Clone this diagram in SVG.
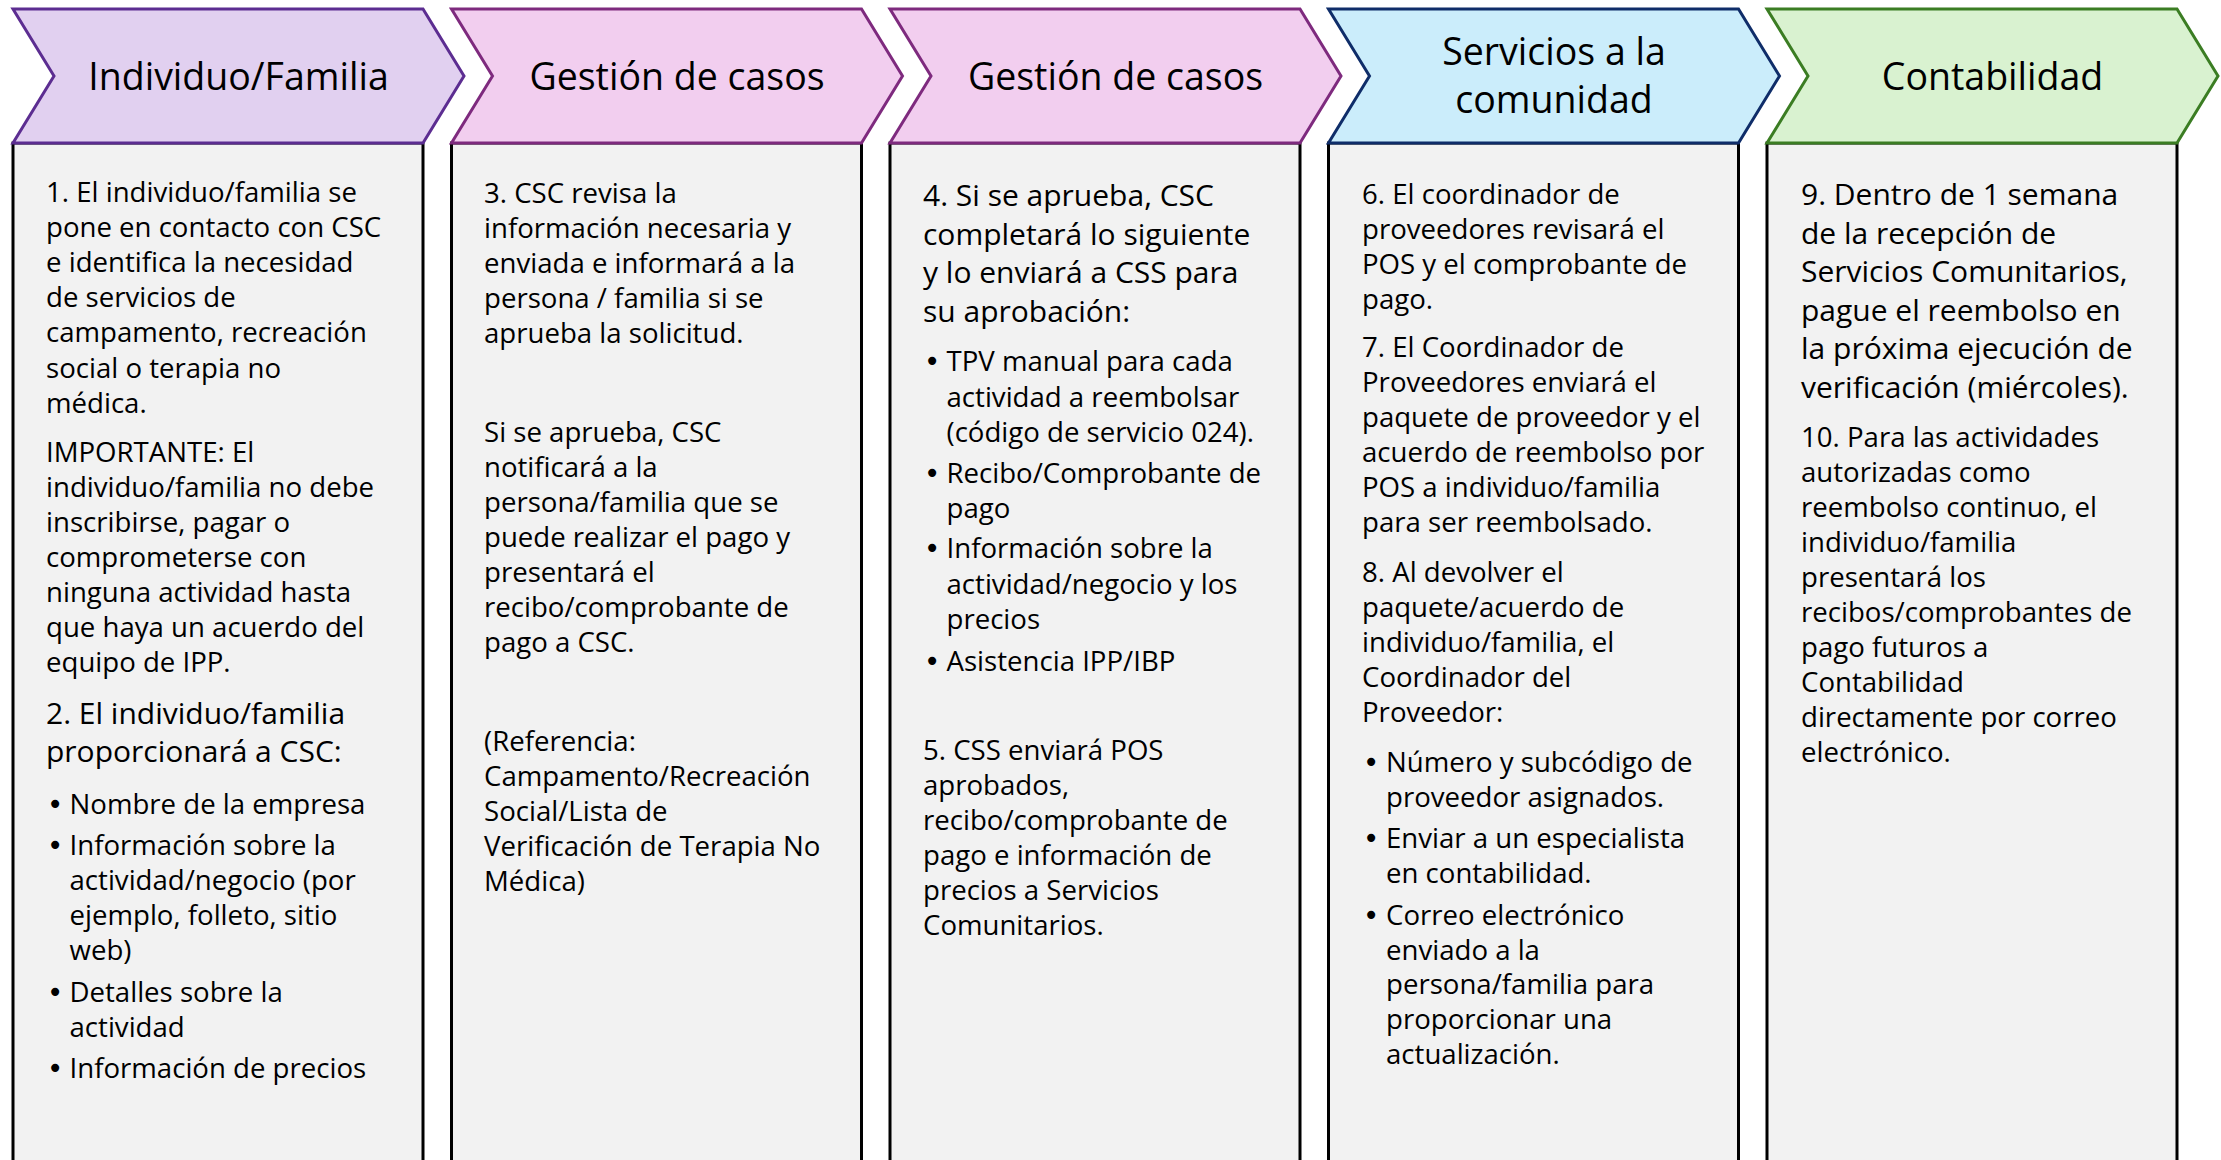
<svg xmlns="http://www.w3.org/2000/svg" width="2221" height="1160" viewBox="0 0 2221 1160">
<style>
text{font-family:"Open Sans","Noto Sans","DejaVu Sans",sans-serif;fill:#000}
.h{font-size:37.5px;text-anchor:middle}
.s{font-size:27.6px}
.l{font-size:30px}
.b{font-size:27.6px;font-family:"DejaVu Sans",sans-serif}
.box{fill:#F2F2F2;stroke:#000;stroke-width:3}
.c1{fill:#E1D0F0;stroke:#5C2D91;stroke-width:3}
.c2{fill:#F2CEEF;stroke:#7E2A7E;stroke-width:3}
.c4{fill:#CBEDFB;stroke:#0F2D69;stroke-width:3}
.c5{fill:#D9F2D0;stroke:#3B7D23;stroke-width:3}
</style>
<defs>
<polygon id="chev" points="0,9 410,9 451,76 410,143 0,143 41,76"/>
</defs>
<g id="connectors"/>
<g id="col1">
<rect class="box" x="13" y="143" width="410" height="1100"/>
<use href="#chev" class="c1" x="13"/>
<text class="h" x="238.5" y="90">Individuo/Familia</text>
<text class="s" x="46" y="202">1. El individuo/familia se</text>
<text class="s" x="46" y="237.1">pone en contacto con CSC</text>
<text class="s" x="46" y="272.2">e identifica la necesidad</text>
<text class="s" x="46" y="307.3">de servicios de</text>
<text class="s" x="46" y="342.4">campamento, recreación</text>
<text class="s" x="46" y="377.5">social o terapia no</text>
<text class="s" x="46" y="412.6">médica.</text>
<text class="s" x="46" y="461.5">IMPORTANTE: El</text>
<text class="s" x="46" y="496.6">individuo/familia no debe</text>
<text class="s" x="46" y="531.7">inscribirse, pagar o</text>
<text class="s" x="46" y="566.8">comprometerse con</text>
<text class="s" x="46" y="601.9">ninguna actividad hasta</text>
<text class="s" x="46" y="637">que haya un acuerdo del</text>
<text class="s" x="46" y="672.1">equipo de IPP.</text>
<text class="l" x="46" y="724">2. El individuo/familia</text>
<text class="l" x="46" y="762">proporcionará a CSC:</text>
<text class="b" x="47" y="814">•</text><text class="s" x="69.5" y="814">Nombre de la empresa</text>
<text class="b" x="47" y="855">•</text><text class="s" x="69.5" y="855">Información sobre la</text>
<text class="s" x="69.5" y="890">actividad/negocio (por</text>
<text class="s" x="69.5" y="925">ejemplo, folleto, sitio</text>
<text class="s" x="69.5" y="960">web)</text>
<text class="b" x="47" y="1001.5">•</text><text class="s" x="69.5" y="1001.5">Detalles sobre la</text>
<text class="s" x="69.5" y="1036.5">actividad</text>
<text class="b" x="47" y="1078">•</text><text class="s" x="69.5" y="1078">Información de precios</text>
</g>
<g id="col2">
<rect class="box" x="451.5" y="143" width="410" height="1100"/>
<use href="#chev" class="c2" x="451.5"/>
<text class="h" x="677" y="90">Gestión de casos</text>
<text class="s" x="484" y="203">3. CSC revisa la</text>
<text class="s" x="484" y="238">información necesaria y</text>
<text class="s" x="484" y="273">enviada e informará a la</text>
<text class="s" x="484" y="308">persona / familia si se</text>
<text class="s" x="484" y="343">aprueba la solicitud.</text>
<text class="s" x="484" y="442">Si se aprueba, CSC</text>
<text class="s" x="484" y="477">notificará a la</text>
<text class="s" x="484" y="512">persona/familia que se</text>
<text class="s" x="484" y="547">puede realizar el pago y</text>
<text class="s" x="484" y="582">presentará el</text>
<text class="s" x="484" y="617">recibo/comprobante de</text>
<text class="s" x="484" y="652">pago a CSC.</text>
<text class="s" x="484" y="751">(Referencia:</text>
<text class="s" x="484" y="786">Campamento/Recreación</text>
<text class="s" x="484" y="821">Social/Lista de</text>
<text class="s" x="484" y="856">Verificación de Terapia No</text>
<text class="s" x="484" y="891">Médica)</text>
</g>
<g id="col3">
<rect class="box" x="890" y="143" width="410" height="1100"/>
<use href="#chev" class="c2" x="890"/>
<text class="h" x="1115.5" y="90">Gestión de casos</text>
<text class="l" x="923" y="206">4. Si se aprueba, CSC</text>
<text class="l" x="923" y="244.5">completará lo siguiente</text>
<text class="l" x="923" y="283">y lo enviará a CSS para</text>
<text class="l" x="923" y="321.5">su aprobación:</text>
<text class="b" x="924" y="371">•</text><text class="s" x="946.5" y="371">TPV manual para cada</text>
<text class="s" x="946.5" y="406.5">actividad a reembolsar</text>
<text class="s" x="946.5" y="442">(código de servicio 024).</text>
<text class="b" x="924" y="482.5">•</text><text class="s" x="946.5" y="482.5">Recibo/Comprobante de</text>
<text class="s" x="946.5" y="517.5">pago</text>
<text class="b" x="924" y="558">•</text><text class="s" x="946.5" y="558">Información sobre la</text>
<text class="s" x="946.5" y="593.5">actividad/negocio y los</text>
<text class="s" x="946.5" y="629">precios</text>
<text class="b" x="924" y="670.5">•</text><text class="s" x="946.5" y="670.5">Asistencia IPP/IBP</text>
<text class="s" x="923" y="760">5. CSS enviará POS</text>
<text class="s" x="923" y="795">aprobados,</text>
<text class="s" x="923" y="830">recibo/comprobante de</text>
<text class="s" x="923" y="865">pago e información de</text>
<text class="s" x="923" y="900">precios a Servicios</text>
<text class="s" x="923" y="935">Comunitarios.</text>
</g>
<g id="col4">
<rect class="box" x="1328.5" y="143" width="410" height="1100"/>
<use href="#chev" class="c4" x="1328.5"/>
<text class="h" x="1554" y="65">Servicios a la</text>
<text class="h" x="1554" y="113">comunidad</text>
<text class="s" x="1362" y="204">6. El coordinador de</text>
<text class="s" x="1362" y="239">proveedores revisará el</text>
<text class="s" x="1362" y="274">POS y el comprobante de</text>
<text class="s" x="1362" y="309">pago.</text>
<text class="s" x="1362" y="357">7. El Coordinador de</text>
<text class="s" x="1362" y="392">Proveedores enviará el</text>
<text class="s" x="1362" y="427">paquete de proveedor y el</text>
<text class="s" x="1362" y="462">acuerdo de reembolso por</text>
<text class="s" x="1362" y="497">POS a individuo/familia</text>
<text class="s" x="1362" y="532">para ser reembolsado.</text>
<text class="s" x="1362" y="581.5">8. Al devolver el</text>
<text class="s" x="1362" y="616.5">paquete/acuerdo de</text>
<text class="s" x="1362" y="651.5">individuo/familia, el</text>
<text class="s" x="1362" y="686.5">Coordinador del</text>
<text class="s" x="1362" y="721.5">Proveedor:</text>
<text class="b" x="1363" y="771.5">•</text><text class="s" x="1386" y="771.5">Número y subcódigo de</text>
<text class="s" x="1386" y="806.5">proveedor asignados.</text>
<text class="b" x="1363" y="848">•</text><text class="s" x="1386" y="848">Enviar a un especialista</text>
<text class="s" x="1386" y="883">en contabilidad.</text>
<text class="b" x="1363" y="924.7">•</text><text class="s" x="1386" y="924.7">Correo electrónico</text>
<text class="s" x="1386" y="959.5">enviado a la</text>
<text class="s" x="1386" y="994.3">persona/familia para</text>
<text class="s" x="1386" y="1029.1">proporcionar una</text>
<text class="s" x="1386" y="1063.9">actualización.</text>
</g>
<g id="col5">
<rect class="box" x="1767" y="143" width="410" height="1100"/>
<use href="#chev" class="c5" x="1767"/>
<text class="h" x="1992.5" y="90">Contabilidad</text>
<text class="l" x="1801" y="205">9. Dentro de 1 semana</text>
<text class="l" x="1801" y="243.5">de la recepción de</text>
<text class="l" x="1801" y="282">Servicios Comunitarios,</text>
<text class="l" x="1801" y="320.5">pague el reembolso en</text>
<text class="l" x="1801" y="359">la próxima ejecución de</text>
<text class="l" x="1801" y="397.5">verificación (miércoles).</text>
<text class="s" x="1801" y="447">10. Para las actividades</text>
<text class="s" x="1801" y="482">autorizadas como</text>
<text class="s" x="1801" y="517">reembolso continuo, el</text>
<text class="s" x="1801" y="552">individuo/familia</text>
<text class="s" x="1801" y="587">presentará los</text>
<text class="s" x="1801" y="622">recibos/comprobantes de</text>
<text class="s" x="1801" y="657">pago futuros a</text>
<text class="s" x="1801" y="692">Contabilidad</text>
<text class="s" x="1801" y="727">directamente por correo</text>
<text class="s" x="1801" y="762">electrónico.</text>
</g>
</svg>
